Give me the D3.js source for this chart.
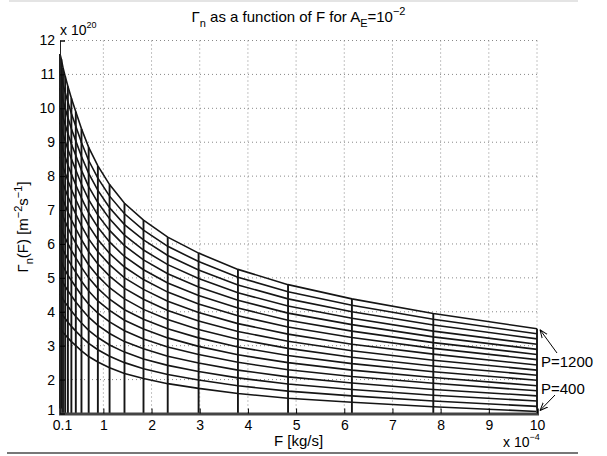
<!DOCTYPE html>
<html>
<head>
<meta charset="utf-8">
<script src="https://cdn.jsdelivr.net/npm/d3@7"></script>
<style>
body { margin: 0; background: #fff; }
text { font-family: "Liberation Sans", Arial, sans-serif; fill: #000; }
</style>
</head>
<body>
<svg width="607" height="456"></svg>
<script>
// F sample points (x 10^-4 kg/s), logarithmically spaced
var F = [0.1, 0.1274, 0.1624, 0.2069, 0.2637, 0.3360, 0.4281, 0.5456, 0.6952, 0.8859,
         1.1288, 1.4384, 1.8330, 2.3357, 2.9764, 3.7927, 4.8329, 6.1585, 7.8476, 10];

// Gamma_n (x 10^20) for each P
var g400  = [3.52, 3.47, 3.39, 3.32, 3.23, 3.12, 3.00, 2.85, 2.68, 2.52, 2.35, 2.18, 2.03, 1.88, 1.74, 1.59, 1.45, 1.33, 1.20, 1.06];
var g450  = [4.02, 3.97, 3.88, 3.80, 3.69, 3.57, 3.43, 3.26, 3.07, 2.88, 2.69, 2.50, 2.32, 2.15, 1.99, 1.82, 1.66, 1.52, 1.37, 1.21];
var g500  = [4.53, 4.47, 4.37, 4.27, 4.16, 4.02, 3.86, 3.67, 3.45, 3.24, 3.02, 2.81, 2.61, 2.42, 2.24, 2.05, 1.87, 1.71, 1.54, 1.37];
var g550  = [5.03, 4.97, 4.86, 4.75, 4.62, 4.47, 4.29, 4.08, 3.84, 3.60, 3.36, 3.12, 2.91, 2.69, 2.49, 2.28, 2.08, 1.90, 1.71, 1.52];
var g600  = [5.54, 5.47, 5.35, 5.23, 5.08, 4.92, 4.73, 4.49, 4.22, 3.96, 3.70, 3.44, 3.20, 2.96, 2.74, 2.51, 2.29, 2.09, 1.89, 1.67];
var g650  = [6.04, 5.96, 5.83, 5.70, 5.55, 5.37, 5.16, 4.90, 4.61, 4.32, 4.04, 3.75, 3.49, 3.23, 2.98, 2.73, 2.50, 2.28, 2.06, 1.82];
var g700  = [6.55, 6.46, 6.32, 6.18, 6.01, 5.81, 5.59, 5.31, 5.00, 4.69, 4.37, 4.06, 3.78, 3.50, 3.23, 2.96, 2.71, 2.47, 2.23, 1.98];
var g750  = [7.05, 6.96, 6.81, 6.66, 6.48, 6.26, 6.02, 5.72, 5.38, 5.05, 4.71, 4.38, 4.07, 3.77, 3.48, 3.19, 2.92, 2.66, 2.40, 2.13];
var g800  = [7.56, 7.46, 7.30, 7.14, 6.94, 6.71, 6.45, 6.13, 5.77, 5.41, 5.05, 4.69, 4.37, 4.04, 3.73, 3.42, 3.13, 2.85, 2.57, 2.28];
var g850  = [8.06, 7.96, 7.79, 7.61, 7.40, 7.16, 6.88, 6.53, 6.15, 5.77, 5.39, 5.00, 4.66, 4.31, 3.98, 3.65, 3.34, 3.04, 2.75, 2.43];
var g900  = [8.57, 8.46, 8.27, 8.09, 7.87, 7.61, 7.31, 6.94, 6.54, 6.13, 5.72, 5.32, 4.95, 4.58, 4.23, 3.88, 3.55, 3.24, 2.92, 2.59];
var g950  = [9.07, 8.96, 8.76, 8.57, 8.33, 8.06, 7.74, 7.35, 6.92, 6.49, 6.06, 5.63, 5.24, 4.85, 4.48, 4.11, 3.75, 3.43, 3.09, 2.74];
var g1000 = [9.58, 9.46, 9.25, 9.04, 8.79, 8.51, 8.18, 7.76, 7.31, 6.85, 6.40, 5.95, 5.53, 5.12, 4.73, 4.34, 3.96, 3.62, 3.26, 2.89];
var g1050 = [10.08, 9.95, 9.74, 9.52, 9.26, 8.95, 8.61, 8.17, 7.69, 7.22, 6.74, 6.26, 5.82, 5.39, 4.98, 4.56, 4.17, 3.81, 3.43, 3.04];
var g1100 = [10.59, 10.45, 10.22, 10.00, 9.72, 9.40, 9.04, 8.58, 8.08, 7.58, 7.07, 6.57, 6.12, 5.66, 5.23, 4.79, 4.38, 4.00, 3.61, 3.20];
var g1150 = [11.09, 10.95, 10.71, 10.47, 10.19, 9.85, 9.47, 8.99, 8.46, 7.94, 7.41, 6.89, 6.41, 5.93, 5.48, 5.02, 4.59, 4.19, 3.78, 3.35];
var g1200 = [11.60, 11.45, 11.20, 10.95, 10.65, 10.30, 9.90, 9.40, 8.85, 8.30, 7.75, 7.20, 6.70, 6.20, 5.73, 5.25, 4.80, 4.38, 3.95, 3.50];

var P = [400, 450, 500, 550, 600, 650, 700, 750, 800, 850, 900, 950, 1000, 1050, 1100, 1150, 1200];
var series = [g400, g450, g500, g550, g600, g650, g700, g750, g800, g850, g900, g950, g1000, g1050, g1100, g1150, g1200];

var xTicks = [0.1, 1, 2, 3, 4, 5, 6, 7, 8, 9, 10];
var xTickLabels = ["0.1", "1", "2", "3", "4", "5", "6", "7", "8", "9", "10"];
var yTicks = [1, 2, 3, 4, 5, 6, 7, 8, 9, 10, 11, 12];

var svg = d3.select("svg");

// page edge lines
svg.append("line").attr("x1", 9).attr("x2", 578).attr("y1", 1).attr("y2", 1)
    .attr("stroke", "#e4e4e4").attr("stroke-width", 2);
svg.append("line").attr("x1", 7).attr("x2", 578).attr("y1", 453).attr("y2", 453)
    .attr("stroke", "#777").attr("stroke-width", 2);

var x = d3.scaleLinear().domain([0.1, 10]).range([60, 537]);
var y = d3.scaleLinear().domain([1, 12]).range([413.5, 40.5]);

var g = svg.append("g");

// dotted grid
g.selectAll(".gx").data(xTicks.slice(1)).enter().append("line")
    .attr("x1", d => x(d)).attr("x2", d => x(d))
    .attr("y1", y(1)).attr("y2", y(12))
    .attr("stroke", "#888").attr("stroke-width", 1).attr("stroke-dasharray", "1,3");
g.selectAll(".gy").data(yTicks.slice(1)).enter().append("line")
    .attr("x1", x(0.1)).attr("x2", x(10))
    .attr("y1", d => y(d)).attr("y2", d => y(d))
    .attr("stroke", "#888").attr("stroke-width", 1).attr("stroke-dasharray", "1,3");

// curves, one per P
var line = d3.line()
    .x(function (d, i) { return x(F[i]); })
    .y(function (d) { return y(d); });

g.selectAll(".curve").data(series).enter().append("path")
    .attr("class", "curve")
    .attr("d", line)
    .attr("fill", "none")
    .attr("stroke", "#151515")
    .attr("stroke-width", 1.6);

// vertical lines at each F sample up to the top curve
g.selectAll(".vline").data(F).enter().append("line")
    .attr("x1", d => x(d)).attr("x2", d => x(d))
    .attr("y1", y(1)).attr("y2", (d, i) => y(g1200[i]))
    .attr("stroke", "#151515")
    .attr("stroke-width", 1.9);

// axes
var xaxis = g.append("g")
    .attr("transform", "translate(0," + y(1) + ")")
    .call(d3.axisBottom(x).tickValues(xTicks).tickSize(-5).tickPadding(7)
        .tickFormat((d, i) => xTickLabels[i]));
var yaxis = g.append("g")
    .attr("transform", "translate(" + x(0.1) + ",0)")
    .call(d3.axisLeft(y).tickValues(yTicks).tickSize(-5).tickPadding(5).tickFormat(d3.format("d")));

xaxis.select(".domain").attr("stroke", "#444").attr("stroke-width", 3);
yaxis.select(".domain").attr("stroke", "#222");
xaxis.selectAll("text").attr("font-size", "14px").attr("font-family", "Liberation Sans, Arial, sans-serif");
yaxis.selectAll("text").attr("font-size", "14px").attr("font-family", "Liberation Sans, Arial, sans-serif");
// nudge the corner labels apart like the original
xaxis.selectAll("text").filter(d => d === 0.1).attr("dx", 2);
yaxis.selectAll("text").filter(d => d === 1).attr("dy", "0.1em");

// exponent labels
var e1 = svg.append("text").attr("x", 60).attr("y", 35).attr("font-size", "14px");
e1.append("tspan").text("x 10");
e1.append("tspan").attr("dy", -7).attr("font-size", "9px").text("20");

var e2 = svg.append("text").attr("x", 503).attr("y", 447).attr("font-size", "14px");
e2.append("tspan").text("x 10");
e2.append("tspan").attr("dy", -7).attr("font-size", "9px").text("\u22124");

// title
var t = svg.append("text").attr("x", x(0.1) + (x(10) - x(0.1)) / 2).attr("y", 22)
    .attr("text-anchor", "middle").attr("font-size", "15px");
t.append("tspan").text("\u0393");
t.append("tspan").attr("dy", 5).attr("font-size", "11px").text("n");
t.append("tspan").attr("dy", -5).text(" as a function of F for A");
t.append("tspan").attr("dy", 5).attr("font-size", "11px").text("E");
t.append("tspan").attr("dy", -5).text("=10");
t.append("tspan").attr("dy", -7).attr("font-size", "11px").text("\u22122");

// x label
svg.append("text").attr("x", x(0.1) + (x(10) - x(0.1)) / 2).attr("y", 446)
    .attr("text-anchor", "middle").attr("font-size", "15px").text("F [kg/s]");

// y label
var yl = svg.append("text").attr("transform", "translate(28," + (y(1) + y(12)) / 2 + ") rotate(-90)")
    .attr("text-anchor", "middle").attr("font-size", "15px");
yl.append("tspan").text("\u0393");
yl.append("tspan").attr("dy", 5).attr("font-size", "11px").text("n");
yl.append("tspan").attr("dy", -5).text("(F) [m");
yl.append("tspan").attr("dy", -6).attr("font-size", "11px").text("\u22122");
yl.append("tspan").attr("dy", 6).text("s");
yl.append("tspan").attr("dy", -6).attr("font-size", "11px").text("\u22121");
yl.append("tspan").attr("dy", 6).text("]");

// annotations
svg.append("defs").append("marker")
    .attr("id", "ah").attr("viewBox", "0 0 10 10").attr("refX", 10).attr("refY", 5)
    .attr("markerWidth", 8).attr("markerHeight", 8).attr("orient", "auto")
    .append("path").attr("d", "M0,1 L10,5 L0,9").attr("fill", "none").attr("stroke", "#000").attr("stroke-width", 1.2);

svg.append("line").attr("x1", 557).attr("y1", 353).attr("x2", x(10) + 3).attr("y2", y(g1200[19]) + 1)
    .attr("stroke", "#000").attr("stroke-width", 1).attr("marker-end", "url(#ah)");
svg.append("line").attr("x1", 555).attr("y1", 395).attr("x2", x(10) + 3).attr("y2", y(g400[19]) - 1)
    .attr("stroke", "#000").attr("stroke-width", 1).attr("marker-end", "url(#ah)");

svg.append("text").attr("x", 541).attr("y", 367).attr("font-size", "15px").text("P=1200");
svg.append("text").attr("x", 541).attr("y", 394).attr("font-size", "15px").text("P=400");
</script>
</body>
</html>
